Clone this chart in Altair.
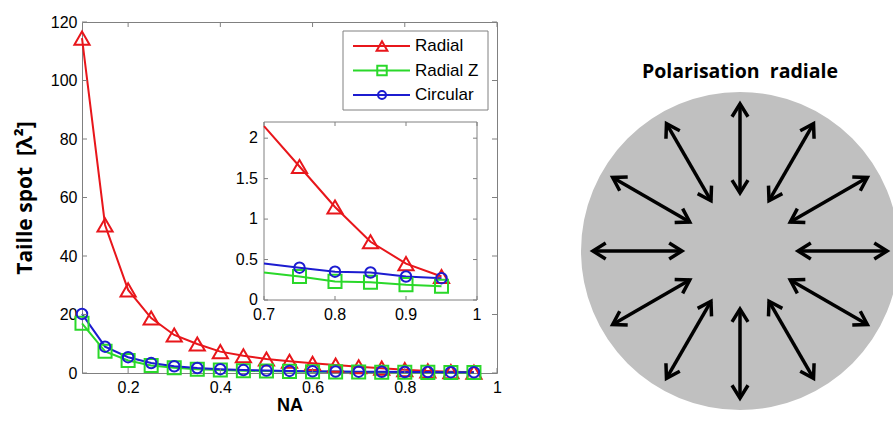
import altair as alt
import pandas as pd

# ---------------- data ----------------
NA = [0.10, 0.15, 0.20, 0.25, 0.30, 0.35, 0.40, 0.45, 0.50, 0.55,
      0.60, 0.65, 0.70, 0.75, 0.80, 0.85, 0.90, 0.95]
RADIAL = [114.5, 50.6, 28.4, 18.8, 13.0, 9.9, 7.3, 5.9, 4.8, 4.0,
          3.3, 2.7, 2.15, 1.65, 1.15, 0.72, 0.45, 0.29]
RADIAL_Z = [17.0, 7.4, 4.3, 2.6, 1.8, 1.3, 1.0, 0.8, 0.65, 0.55,
            0.46, 0.39, 0.34, 0.29, 0.23, 0.22, 0.19, 0.17]
CIRCULAR = [20.2, 9.0, 5.4, 3.4, 2.3, 1.7, 1.3, 1.0, 0.82, 0.70,
            0.60, 0.52, 0.45, 0.40, 0.35, 0.34, 0.29, 0.27]
SERIES = ["Radial", "Radial Z", "Circular"]
COLORS = ["#e8161b", "#2ad82a", "#1c1cd0"]
SHAPES = ["triangle-up", "square", "circle"]

MAIN_X_DOMAIN = [0.1, 1.0]
MAIN_Y_DOMAIN = [0, 120]
MAIN_X_TICKS = [0.2, 0.4, 0.6, 0.8, 1.0]
MAIN_Y_TICKS = [0, 20, 40, 60, 80, 100, 120]

INSET_X_DOMAIN = [0.7, 1.0]
INSET_Y_DOMAIN = [0, 2.2]
INSET_X_TICKS = [0.7, 0.8, 0.9, 1.0]
INSET_X_LABELS = ["0.7", "0.8", "0.9", "1"]
INSET_Y_TICKS = [0, 0.5, 1, 1.5, 2]
INSET_Y_LABELS = ["0", "0.5", "1", "1.5", "2"]
INSET_START = 0.7
INSET_MARK_START = 0.75

ARROW_ANGLES = [0, 30, 60, 90, 120, 150, 180, 210, 240, 270, 300, 330]
ARROW_R_IN = 0.365
ARROW_R_OUT = 0.925
DIAGRAM_TITLE = "Polarisation\u00a0\u00a0radiale"

Y_TITLE = "Taille spot\u00a0\u00a0[\u03bb\u00b2]"
X_TITLE = "NA"

# ---------------- layout / style ----------------
W, H = 415, 351
GRAY = "#808080"
DISK = "#c0c0c0"
LBL_FONT = "Liberation Sans"
TITLE_FONT = "Open Sans"
CHEVRON = "M-1.6,-1L0,0L-1.6,1"

rows = []
for name, vals in zip(SERIES, [RADIAL, RADIAL_Z, CIRCULAR]):
    for na, v in zip(NA, vals):
        rows.append({"series": name, "NA": na, "value": v})
df = pd.DataFrame(rows)
df_in = df[df["NA"] >= INSET_START - 1e-9]
df_in_pts = df[df["NA"] >= INSET_MARK_START - 1e-9]


def sc(domain, rng=None):
    if rng is None:
        return alt.Scale(domain=domain, nice=False, zero=False)
    return alt.Scale(domain=domain, range=rng, nice=False, zero=False)


color = alt.Color("series:N", scale=alt.Scale(domain=SERIES, range=COLORS), legend=None)
shape = alt.Shape("series:N", scale=alt.Scale(domain=SERIES, range=SHAPES), legend=None)
size_main = alt.Size("series:N", scale=alt.Scale(domain=SERIES, range=[230, 110, 200]), legend=None)
size_leg = alt.Size("series:N", scale=alt.Scale(domain=SERIES, range=[115, 64, 95]), legend=None)

# ---------------- main plot ----------------
mx = sc(MAIN_X_DOMAIN, [0, W])
my = sc(MAIN_Y_DOMAIN, [H, 0])
x_axis = alt.Axis(values=MAIN_X_TICKS, format="~g", ticks=False, tickSize=0, domain=False,
                  grid=False, labelFont=LBL_FONT, labelFontSize=16, labelColor="black",
                  labelPadding=6, labelFlush=False, title=X_TITLE, titleFont=LBL_FONT,
                  titleFontSize=18, titleFontWeight="bold", titleColor="black", titlePadding=1)
y_axis = alt.Axis(values=MAIN_Y_TICKS, ticks=False, tickSize=0, domain=False, grid=False,
                  labelFont=LBL_FONT, labelFontSize=16, labelColor="black", labelPadding=5,
                  labelFlush=False, title=Y_TITLE, titleFont=TITLE_FONT, titleFontSize=21,
                  titleFontWeight="bold", titleColor="black", titlePadding=15)

main_lines = alt.Chart(df).mark_line(strokeWidth=2).encode(
    x=alt.X("NA:Q", scale=mx, axis=x_axis),
    y=alt.Y("value:Q", scale=my, axis=y_axis),
    color=color)
main_pts = alt.Chart(df).mark_point(filled=False, strokeWidth=2, opacity=1).encode(
    x=alt.X("NA:Q", scale=mx, axis=None),
    y=alt.Y("value:Q", scale=my, axis=None),
    color=color, shape=shape, size=size_main)

xt = pd.DataFrame({"t": MAIN_X_TICKS})
yt = pd.DataFrame({"t": MAIN_Y_TICKS})
tk = dict(color=GRAY, strokeWidth=1)
m_tb = alt.Chart(xt).mark_rule(**tk).encode(x=alt.X("t:Q", scale=mx, axis=None),
                                             y=alt.value(H), y2=alt.value(H - 5))
m_tt = alt.Chart(xt).mark_rule(**tk).encode(x=alt.X("t:Q", scale=mx, axis=None),
                                             y=alt.value(0), y2=alt.value(5))
m_tl = alt.Chart(yt).mark_rule(**tk).encode(y=alt.Y("t:Q", scale=my, axis=None),
                                             x=alt.value(0), x2=alt.value(5))
m_tr = alt.Chart(yt).mark_rule(**tk).encode(y=alt.Y("t:Q", scale=my, axis=None),
                                             x=alt.value(W), x2=alt.value(W - 5))

# ---------------- inset ----------------
IX0, IX1, IY0, IY1 = 182, 395, 278, 100
ix = sc(INSET_X_DOMAIN, [IX0, IX1])
iy = sc(INSET_Y_DOMAIN, [IY0, IY1])
box = pd.DataFrame({"x0": [INSET_X_DOMAIN[0]], "x1": [INSET_X_DOMAIN[1]],
                    "y0": [INSET_Y_DOMAIN[0]], "y1": [INSET_Y_DOMAIN[1]]})
in_box = alt.Chart(box).mark_rect(fill="white", stroke=GRAY, strokeWidth=1).encode(
    x=alt.X("x0:Q", scale=ix, axis=None), x2="x1:Q",
    y=alt.Y("y0:Q", scale=iy, axis=None), y2="y1:Q")
in_lines = alt.Chart(df_in).mark_line(strokeWidth=2).encode(
    x=alt.X("NA:Q", scale=ix, axis=None), y=alt.Y("value:Q", scale=iy, axis=None), color=color)
in_pts = alt.Chart(df_in_pts).mark_point(filled=False, strokeWidth=2, opacity=1).encode(
    x=alt.X("NA:Q", scale=ix, axis=None), y=alt.Y("value:Q", scale=iy, axis=None),
    color=color, shape=shape, size=size_main)
ixt = pd.DataFrame({"t": INSET_X_TICKS, "lab": INSET_X_LABELS})
iyt = pd.DataFrame({"t": INSET_Y_TICKS, "lab": INSET_Y_LABELS})
i_tb = alt.Chart(ixt).mark_rule(**tk).encode(x=alt.X("t:Q", scale=ix, axis=None),
                                              y=alt.value(IY0), y2=alt.value(IY0 - 4))
i_tt = alt.Chart(ixt).mark_rule(**tk).encode(x=alt.X("t:Q", scale=ix, axis=None),
                                              y=alt.value(IY1), y2=alt.value(IY1 + 4))
i_tl = alt.Chart(iyt).mark_rule(**tk).encode(y=alt.Y("t:Q", scale=iy, axis=None),
                                              x=alt.value(IX0), x2=alt.value(IX0 + 4))
i_tr = alt.Chart(iyt).mark_rule(**tk).encode(y=alt.Y("t:Q", scale=iy, axis=None),
                                              x=alt.value(IX1), x2=alt.value(IX1 - 4))
i_xl = alt.Chart(ixt).mark_text(font=LBL_FONT, fontSize=16, color="black", baseline="top",
                                align="center").encode(
    x=alt.X("t:Q", scale=ix, axis=None), y=alt.value(IY0 + 7), text="lab:N")
i_yl = alt.Chart(iyt).mark_text(font=LBL_FONT, fontSize=16, color="black", baseline="middle",
                                align="right").encode(
    y=alt.Y("t:Q", scale=iy, axis=None), x=alt.value(IX0 - 6), text="lab:N")

# ---------------- legend ----------------
leg = pd.DataFrame({"series": SERIES})
ly = alt.Y("series:N", scale=alt.Scale(type="point", domain=SERIES, range=[24, 73], padding=0),
           axis=None)
leg_box = alt.Chart(pd.DataFrame({"k": [0]})).mark_rect(fill="white", stroke=GRAY,
                                                         strokeWidth=1).encode(
    x=alt.value(261), x2=alt.value(406), y=alt.value(9), y2=alt.value(88))
leg_line = alt.Chart(leg).mark_rule(strokeWidth=2).encode(
    y=ly, x=alt.value(271), x2=alt.value(328), color=color)
leg_pt = alt.Chart(leg).mark_point(filled=False, strokeWidth=2, opacity=1).encode(
    y=ly, x=alt.value(300), color=color, shape=shape, size=size_leg)
leg_txt = alt.Chart(leg).mark_text(font=LBL_FONT, fontSize=17, color="black", align="left",
                                   baseline="middle").encode(
    y=ly, x=alt.value(333), text="series:N")

# ---------------- diagram ----------------
DX0, DX1, DY0, DY1 = 499, 817, 388, 70
dx = sc([-1, 1], [DX0, DX1])
dy = sc([-1, 1], [DY0, DY1])
disk = alt.Chart(pd.DataFrame({"cx": [0.0], "cy": [0.0]})).mark_point(
    filled=True, color=DISK, opacity=1, strokeWidth=0, size=(DX1 - DX0) ** 2).encode(
    x=alt.X("cx:Q", scale=dx, axis=None), y=alt.Y("cy:Q", scale=dy, axis=None))
arr = alt.Chart(pd.DataFrame({"a": ARROW_ANGLES})).transform_calculate(
    rad="datum.a * PI / 180"
).transform_calculate(
    xi=f"{ARROW_R_IN} * cos(datum.rad)", yi=f"{ARROW_R_IN} * sin(datum.rad)",
    xo=f"{ARROW_R_OUT} * cos(datum.rad)", yo=f"{ARROW_R_OUT} * sin(datum.rad)",
    ro="(360 - datum.a) % 360", ri="(540 - datum.a) % 360")
shaft = arr.mark_rule(color="black", strokeWidth=3.5).encode(
    x=alt.X("xi:Q", scale=dx, axis=None), y=alt.Y("yi:Q", scale=dy, axis=None),
    x2="xo:Q", y2="yo:Q")
head_o = arr.mark_point(shape=CHEVRON, size=256, filled=False, color="black", opacity=1,
                        strokeWidth=3.5, strokeJoin="miter").encode(
    x=alt.X("xo:Q", scale=dx, axis=None), y=alt.Y("yo:Q", scale=dy, axis=None),
    angle=alt.Angle("ro:Q", scale=None))
head_i = arr.mark_point(shape=CHEVRON, size=256, filled=False, color="black", opacity=1,
                        strokeWidth=3.5, strokeJoin="miter").encode(
    x=alt.X("xi:Q", scale=dx, axis=None), y=alt.Y("yi:Q", scale=dy, axis=None),
    angle=alt.Angle("ri:Q", scale=None))
dtitle = alt.Chart(pd.DataFrame({"t": [DIAGRAM_TITLE], "cx": [0.0]})).mark_text(
    font=TITLE_FONT, fontSize=19.5, fontWeight="bold", color="black", align="center",
    baseline="middle").encode(x=alt.X("cx:Q", scale=dx, axis=None), y=alt.value(50), text="t:N")

chart = alt.layer(
    main_lines, main_pts, m_tb, m_tt, m_tl, m_tr,
    in_box, in_lines, in_pts, i_tb, i_tt, i_tl, i_tr, i_xl, i_yl,
    leg_box, leg_line, leg_pt, leg_txt,
    disk, shaft, head_o, head_i, dtitle,
).resolve_scale(
    x="independent", y="independent", size="independent"
).properties(
    width=W, height=H,
    padding={"left": 82, "top": 22, "right": 893 - 82 - W, "bottom": 421 - 22 - H},
    autosize=alt.AutoSizeParams(type="none"),
    background="white",
).configure_view(stroke=GRAY, strokeWidth=1)

chart.save("out.html", embed_options={"renderer": "svg", "actions": False})
